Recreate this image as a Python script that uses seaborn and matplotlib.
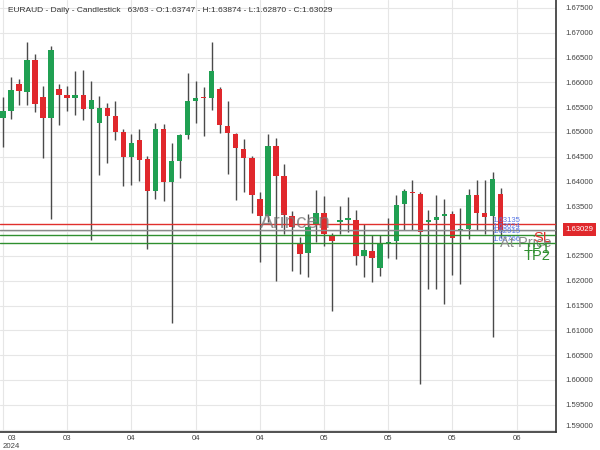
import matplotlib
matplotlib.use("Agg")
import matplotlib.pyplot as plt
import matplotlib.transforms as mtransforms
import seaborn as sns
import numpy as np

# ---------------- data ----------------
opens = [1.65272, 1.65432, 1.65972, 1.65800, 1.66452, 1.65706, 1.65272, 1.65872, 1.65752, 1.65686,
         1.65752, 1.65472, 1.65186, 1.65486, 1.65320, 1.65006, 1.64486, 1.64840, 1.64452, 1.63806,
         1.65052, 1.63986, 1.64406, 1.64932, 1.65620, 1.65706, 1.65686, 1.65872, 1.65120, 1.64952,
         1.64652, 1.64466, 1.63640, 1.63306, 1.64720, 1.64106, 1.63300, 1.62752, 1.62552, 1.63120,
         1.63366, 1.62920, 1.63186, 1.63232, 1.63232, 1.62500, 1.62606, 1.62252, 1.62752, 1.62806,
         1.63540, 1.63786, 1.63752, 1.63180, 1.63232, 1.63300, 1.63352, 1.63020, 1.63040, 1.63720,
         1.63366, 1.63300, 1.63747]
highs = [1.65700, 1.66106, 1.66072, 1.66806, 1.66572, 1.65932, 1.66732, 1.65972, 1.65932, 1.66220,
         1.66246, 1.66020, 1.65720, 1.65586, 1.65632, 1.65052, 1.64952, 1.65066, 1.64520, 1.65186,
         1.65166, 1.64786, 1.64966, 1.66186, 1.66020, 1.65900, 1.66820, 1.65900, 1.65632, 1.64986,
         1.64852, 1.64520, 1.63786, 1.64952, 1.64886, 1.64352, 1.63406, 1.62886, 1.63352, 1.63820,
         1.63700, 1.62966, 1.63500, 1.63686, 1.63420, 1.63140, 1.62920, 1.62920, 1.63272, 1.63720,
         1.63852, 1.64040, 1.63786, 1.63420, 1.63720, 1.63652, 1.63406, 1.63472, 1.63852, 1.64040,
         1.64040, 1.64186, 1.63874]
lows = [1.64700, 1.65266, 1.65552, 1.65552, 1.65406, 1.64472, 1.63252, 1.65140, 1.65420, 1.65340,
        1.65240, 1.62826, 1.64132, 1.64366, 1.64840, 1.63900, 1.63940, 1.64020, 1.62632, 1.63652,
        1.63600, 1.61152, 1.64072, 1.64852, 1.65172, 1.64920, 1.65452, 1.64972, 1.64152, 1.63620,
        1.63786, 1.63372, 1.62386, 1.63186, 1.61986, 1.62952, 1.62206, 1.62140, 1.62072, 1.62786,
        1.62700, 1.61386, 1.62952, 1.62986, 1.62320, 1.62072, 1.61972, 1.62086, 1.62452, 1.62440,
        1.63020, 1.63020, 1.59920, 1.61832, 1.61832, 1.61540, 1.62120, 1.61940, 1.62832, 1.63020,
        1.62952, 1.60872, 1.62870]
closes = [1.65420, 1.65840, 1.65820, 1.66452, 1.65572, 1.65272, 1.66652, 1.65752, 1.65686, 1.65752,
          1.65472, 1.65640, 1.65486, 1.65320, 1.65006, 1.64486, 1.64786, 1.64432, 1.63806, 1.65052,
          1.63986, 1.64406, 1.64932, 1.65620, 1.65686, 1.65680, 1.66220, 1.65132, 1.64972, 1.64672,
          1.64466, 1.63732, 1.63306, 1.64720, 1.64120, 1.63320, 1.63086, 1.62540, 1.63086, 1.63366,
          1.62940, 1.62806, 1.63232, 1.63246, 1.62500, 1.62620, 1.62452, 1.62766, 1.62786, 1.63532,
          1.63800, 1.63760, 1.62986, 1.63220, 1.63286, 1.63352, 1.62866, 1.63040, 1.63720, 1.63372,
          1.63286, 1.64052, 1.63029]

x_tick_labels = ["03\n2024", "03", "04", "04", "04", "05", "05", "05", "06"]
x_tick_step = 8

level_names = ["SL", "At Price", "TP1", "TP2"]
level_values = [1.63135, 1.63024, 1.62915, 1.62766]
level_colors = ["#e0302c", "#8a8a8a", "#2f8f2f", "#2f8f2f"]

last_price = 1.63029
title_text = ("EURAUD - Daily - Candlestick   63/63 - O:1.63747 - H:1.63874 - "
              "L:1.62870 - C:1.63029")
watermark = "Arincen"

y_ticks = [round(1.590 + 0.005 * k, 3) for k in range(18)]

# ---------------- style ----------------
sns.set_style("white")
plt.rcParams["font.family"] = ["Liberation Sans", "DejaVu Sans"]

UP = "#20a052"
DOWN = "#e0282c"
WICK = "#4a4a4a"

fig = plt.figure(figsize=(6, 4.5), dpi=100)
ax = fig.add_axes([0, 18 / 450, 556 / 600, 432 / 450])

idx = np.arange(len(opens))
o = np.array(opens); h = np.array(highs); l = np.array(lows); c = np.array(closes)
up = c >= o

# grid
ax.set_axisbelow(True)
ax.grid(True, color="#e6e6e6", linewidth=0.8)

# wicks
ax.vlines(idx, l, h, color=WICK, linewidth=1.0, zorder=2)
# bodies
body_bottom = np.minimum(o, c)
body_height = np.maximum(np.abs(c - o), 0.00028)
ax.bar(idx, body_height, bottom=body_bottom, width=0.68,
       color=np.where(up, UP, DOWN), linewidth=0, zorder=3)

# level lines
for v, col in zip(level_values, level_colors):
    ax.axhline(v, color=col, linewidth=1.0, zorder=4)

# axes limits
ax.set_xlim(-0.37, 68.9)
ax.set_ylim(1.5895, 1.6766)

# y ticks on the right
ax.yaxis.tick_right()
ax.set_yticks(y_ticks)
ylabels = []
for t in y_ticks:
    ylabels.append("" if abs(t - 1.630) < 1e-9 else f"{t:.5f}")
ax.set_yticklabels(ylabels)
ax.tick_params(axis="y", which="both", length=0, pad=6.5, labelsize=5.6,
               labelcolor="#444444")
for lab, t in zip(ax.get_yticklabels(), y_ticks):
    if abs(t - 1.590) < 1e-9:
        lab.set_verticalalignment("bottom")

# x ticks
xt = np.arange(0, x_tick_step * len(x_tick_labels), x_tick_step)
ax.set_xticks(xt)
ax.set_xticklabels(x_tick_labels)
ax.tick_params(axis="x", which="both", length=0, pad=2, labelsize=5.6,
               labelcolor="#444444")
first = ax.get_xticklabels()[0]
first.set_horizontalalignment("left")
first.set_multialignment("center")

# spines
sns.despine(ax=ax, left=True, top=True, right=False, bottom=False)
for s in ("right", "bottom"):
    ax.spines[s].set_color("#333333")
    ax.spines[s].set_linewidth(1.2)

# title
fig.text(8 / 600, 1 - 10.5 / 450, title_text, fontsize=6.0, color="#333333",
         ha="left", va="center")

# watermark
ax.text(260 / 556, 1 - 223 / 432, watermark, transform=ax.transAxes,
        fontsize=15, color="#7a7a7a", alpha=0.8, ha="left", va="center", zorder=5)

trans = mtransforms.blended_transform_factory(ax.transAxes, ax.transData)

# blue value labels
for v in level_values:
    ax.text(492 / 556, v, f"{v:.5f}", transform=trans, fontsize=5.6,
            color="#5a78e6", ha="left", va="bottom", zorder=6)

# level names
for name, v, col in zip(level_names, level_values, level_colors):
    ax.annotate(name, xy=(551 / 556, v), xycoords=trans, xytext=(0, -4.5),
                textcoords="offset points", fontsize=10.5, color=col,
                ha="right", va="top", zorder=6)

# current price tag
ax.annotate(f"{last_price:.5f}", xy=(1, last_price), xycoords=trans,
            xytext=(7, 0), textcoords="offset points", fontsize=5.6,
            color="white", ha="left", va="center", annotation_clip=False,
            bbox=dict(boxstyle="square,pad=0.35", fc="#e0282c", ec="none"),
            zorder=7)

fig.savefig("out.png", dpi=100)
